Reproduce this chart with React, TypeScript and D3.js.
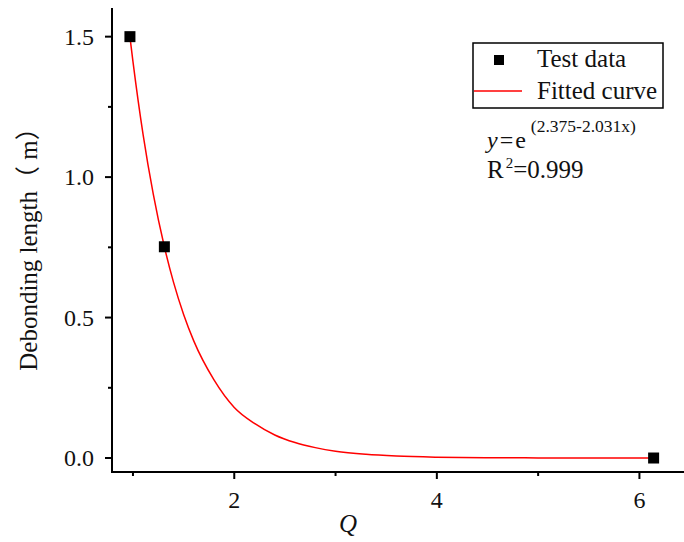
import React from "react";
import * as d3 from "d3";

const testX = [0.97, 1.31, 6.14];
const testY = [1.5, 0.752, 0.0];

const curveX = [0.97, 1.0, 1.1, 1.2, 1.31, 1.4, 1.5, 1.6, 1.8, 2.0, 2.2, 2.4, 2.6, 2.8, 3.0, 3.3, 3.6, 4.0, 4.5, 5.0, 5.5, 6.14];
const curveY = [1.499, 1.411, 1.151, 0.94, 0.752, 0.626, 0.511, 0.417, 0.278, 0.18, 0.123, 0.082, 0.055, 0.037, 0.024, 0.013, 0.007, 0.003, 0.001, 0.0004, 0.0002, 0.0];

const xTicks = [2, 4, 6];
const xMinor = [1, 3, 5];
const yTicks = [0.0, 0.5, 1.0, 1.5];
const yMinor = [0.25, 0.75, 1.25];

const legendLabels = ["Test data", "Fitted curve"];
const yLabel = "Debonding length（ m）";
const xLabel = "Q";

const FONT = "'Liberation Serif', 'Times New Roman', 'Noto Sans CJK SC', serif";

export default function App() {
  const x = d3.scaleLinear().domain([0.793, 6.44]).range([112, 684]);
  const y = d3.scaleLinear().domain([-0.0498, 1.602]).range([472, 8]);
  const line = d3
    .line<number>()
    .x((d, i) => x(curveX[i]))
    .y((d) => y(d))
    .curve(d3.curveMonotoneX);

  const x0 = x.range()[0];
  const y0 = y.range()[0];

  return (
    <svg
      width={684}
      height={542}
      style={{ position: "absolute", left: 0, top: 0, background: "#fff" }}
      fontFamily={FONT}
    >
      <rect x={0} y={0} width={684} height={542} fill="#fff" />
      {/* fitted curve */}
      <path d={line(curveY) || ""} fill="none" stroke="#ff0000" strokeWidth={1.5} />
      {/* points */}
      {testX.map((v, i) => (
        <rect key={i} x={x(v) - 5.5} y={y(testY[i]) - 5.5} width={11} height={11} fill="#000" />
      ))}
      {/* axes */}
      <line x1={x0} y1={y.range()[1]} x2={x0} y2={y0 + 1} stroke="#000" strokeWidth={2} />
      <line x1={x0 - 1} y1={y0} x2={684} y2={y0} stroke="#000" strokeWidth={2} />
      {yTicks.map((t) => (
        <g key={"yt" + t}>
          <line x1={x0 - 7} x2={x0} y1={y(t)} y2={y(t)} stroke="#000" strokeWidth={2} />
          <text x={x0 - 18} y={y(t) + 8} textAnchor="end" fontSize={24} fill="#111">
            {t.toFixed(1)}
          </text>
        </g>
      ))}
      {yMinor.map((t) => (
        <line key={"ym" + t} x1={x0 - 4} x2={x0} y1={y(t)} y2={y(t)} stroke="#000" strokeWidth={2} />
      ))}
      {xTicks.map((t) => (
        <g key={"xt" + t}>
          <line x1={x(t)} x2={x(t)} y1={y0} y2={y0 + 7} stroke="#000" strokeWidth={2} />
          <text x={x(t)} y={y0 + 36} textAnchor="middle" fontSize={24} fill="#111">
            {t}
          </text>
        </g>
      ))}
      {xMinor.map((t) => (
        <line key={"xm" + t} x1={x(t)} x2={x(t)} y1={y0} y2={y0 + 4} stroke="#000" strokeWidth={2} />
      ))}
      {/* axis labels */}
      <text
        transform={`translate(37,243) rotate(-90)`}
        textAnchor="middle"
        fontSize={25}
        fill="#111"
      >
        {yLabel}
      </text>
      <text x={348} y={532} textAnchor="middle" fontSize={25} fontStyle="italic" fill="#111">
        {xLabel}
      </text>
      {/* legend */}
      <rect x={473} y={43} width={190} height={65} fill="#fff" stroke="#000" strokeWidth={1.5} />
      <rect x={494} y={55} width={10} height={10} fill="#000" />
      <text x={537} y={67} fontSize={25} fill="#111">
        {legendLabels[0]}
      </text>
      <line x1={474} x2={522} y1={91} y2={91} stroke="#ff0000" strokeWidth={1.5} />
      <text x={537} y={99} fontSize={25} fill="#111">
        {legendLabels[1]}
      </text>
      {/* equation */}
      <text x={487} y={148} fontSize={24} fill="#111">
        <tspan fontStyle="italic">y</tspan>
        <tspan dx={2}>=</tspan>
        <tspan dx={2}>e</tspan>
        <tspan fontSize={17.5} dy={-16} dx={5}>(2.375-2.031x)</tspan>
      </text>
      <text x={487} y={178} fontSize={25} fill="#111">
        <tspan>R</tspan>
        <tspan fontSize={15} dy={-10} dx={2}>2</tspan>
        <tspan dy={10}>=0.999</tspan>
      </text>
    </svg>
  );
}
